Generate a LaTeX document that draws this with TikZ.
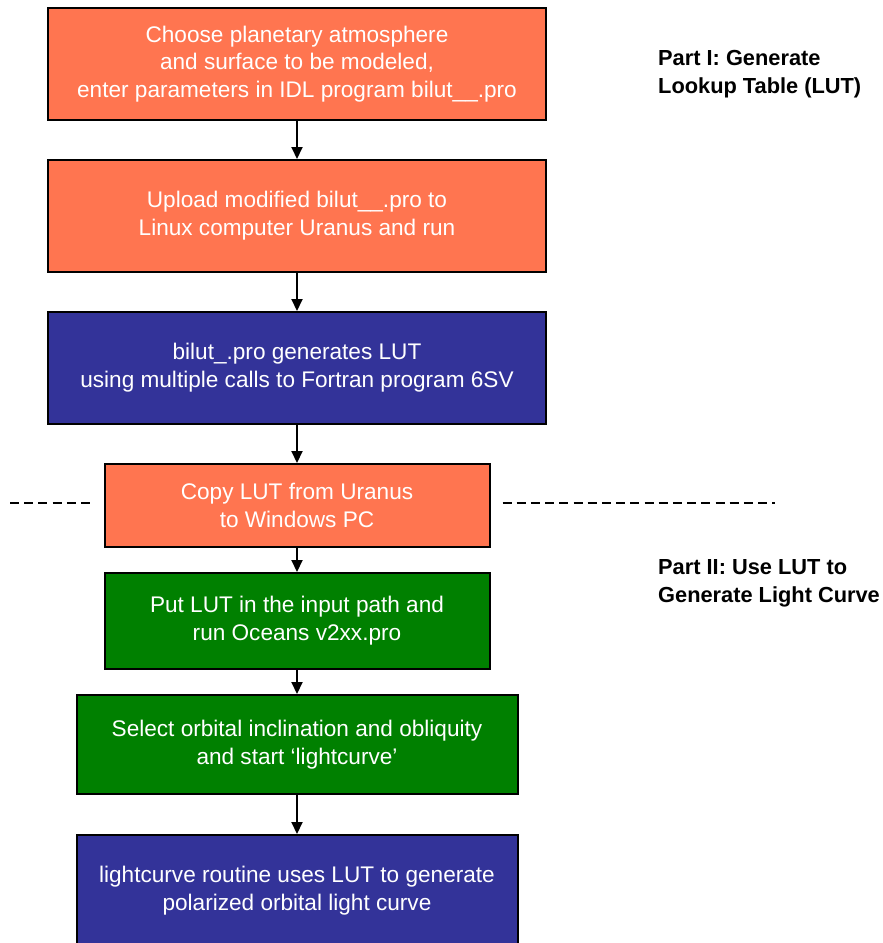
\documentclass[tikz,border=0pt]{standalone}
\usepackage{fontspec}
\setmainfont{Liberation Sans}
\usetikzlibrary{arrows.meta,positioning}
\definecolor{corange}{RGB}{255,117,80}
\definecolor{cblue}{RGB}{51,51,153}
\definecolor{cgreen}{RGB}{0,128,0}

\begin{document}
\begin{tikzpicture}[
  x=1pt, y=1pt,
  font=\fontsize{22.6}{27.8}\selectfont,
  lutstep/.style={draw=black, line width=2pt, minimum height=112pt, minimum width=498pt, align=center, text=white, fill=corange, inner sep=0pt},
  runstep/.style={lutstep, fill=cblue},
  pcstep/.style={lutstep, fill=cgreen},
  partlabel/.style={anchor=north west, align=left, inner sep=0pt, font=\fontsize{21.8}{28.5}\selectfont\bfseries},
  ar/.style={-{Triangle[length=12pt,width=11pt]}, line width=2pt},
  sep/.style={line width=2.6pt, dash pattern=on 9pt off 5.2pt},
]
\useasboundingbox (0,0) rectangle (883,-943);
\node[lutstep] (choose) at (297,-64) {Choose planetary atmosphere\\and surface to be modeled,\\enter parameters in IDL program bilut\_\_.pro};
\node[lutstep, below=38pt of choose] (upload) {Upload modified bilut\_\_.pro to\\Linux computer Uranus and run};
\node[runstep, below=38pt of upload] (gen) {bilut\_.pro generates LUT\\using multiple calls to Fortran program 6SV};
\node[lutstep, below=38pt of gen, minimum width=385pt, minimum height=83pt] (copy) {Copy LUT from Uranus\\to Windows PC};
\node[pcstep, below=24pt of copy, minimum width=385pt, minimum height=96pt] (put) {Put LUT in the input path and\\run Oceans v2xx.pro};
\node[pcstep, below=24pt of put, minimum width=441pt, minimum height=99pt] (select) {Select orbital inclination and obliquity\\and start `lightcurve'};
\node[runstep, below=39pt of select, minimum width=441pt] (curve) {lightcurve routine uses LUT to generate\\polarized orbital light curve};
\node[partlabel] (part1) at (658,-50) {Part I: Generate\\Lookup Table (LUT)};
\node[partlabel] (part2) at (658,-559) {Part II: Use LUT to\\Generate Light Curve};
\draw[ar] (choose) -- (upload); \draw[ar] (upload) -- (gen); \draw[ar] (gen) -- (copy);
\draw[ar] (copy) -- (put); \draw[ar] (put) -- (select); \draw[ar] (select) -- (curve);
% split between the two parts
\coordinate (sepl) at (10,-503);
\coordinate (sepr) at (775,-503);
\draw[sep] (sepl) -- ([xshift=-12pt]copy.west |- sepl);
\draw[sep] ([xshift=12pt]copy.east |- sepr) -- (sepr);
\end{tikzpicture}
\end{document}
